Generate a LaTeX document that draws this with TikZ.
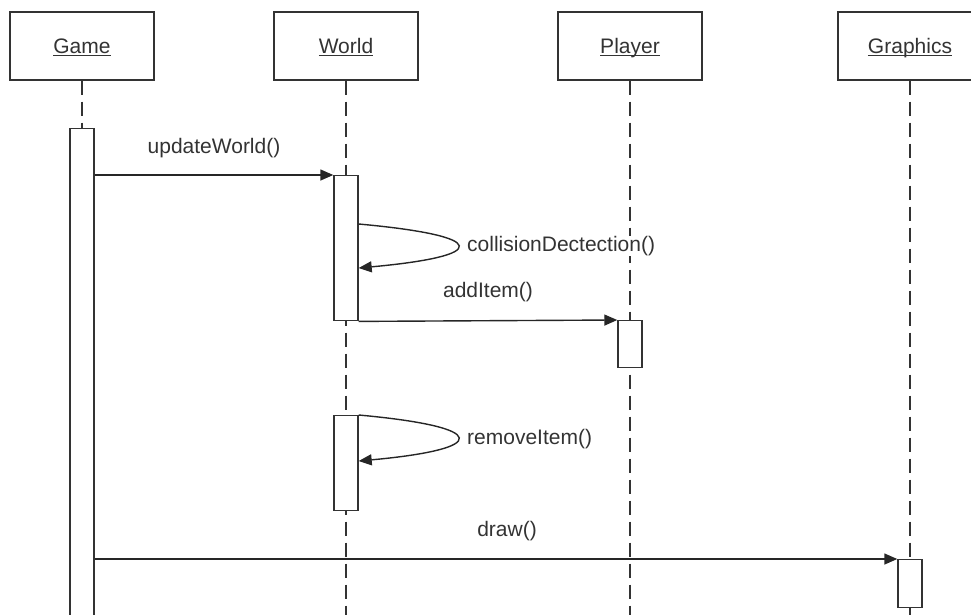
\documentclass[tikz,border=0pt]{standalone}
\usepackage{fontspec}
\setmainfont{Liberation Sans}
\usetikzlibrary{arrows.meta}
\usetikzlibrary{positioning}
\newcommand{\objname}[1]{\underline{\smash{#1}}}
\tikzset{
	>={Triangle[length=13pt,width=11pt]},
	objbox/.style={draw=black!80, line width=1.4pt, fill=white, minimum width=144pt, minimum height=68pt, text height=15pt, text depth=0pt, text=black!80, font=\fontsize{21}{25}\selectfont},
	actbox/.style={draw=black!80, line width=1.4pt, fill=white, minimum width=24pt, anchor=north, inner sep=0pt},
	lifeline/.style={black!80, line width=1.4pt, dash pattern=on 14pt off 7pt},
	msg/.style={black!85, line width=1.4pt, ->},
	msglabel/.style={text=black!80, font=\fontsize{21}{25}\selectfont, inner sep=0pt},
}

\begin{document}
\begin{tikzpicture}[x=1pt, y=-1pt, line join=miter]
		% Page frame
		\clip (0,0) rectangle (971,614);
		
		% Objects
		\node[objbox] (game) at (82,46) {\objname{Game}};
		\node[objbox] (world) at (346,46) {\objname{World}};
		\node[objbox] (player) at (630,46) {\objname{Player}};
		\node[objbox] (graphics) at (910,46) {\objname{Graphics}};
		
		% Lifelines
		\coordinate (gameEnd) at (82,620);
		\coordinate (worldEnd) at (346,620);
		\coordinate (playerEnd) at (630,620);
		\coordinate (graphicsEnd) at (910,620);
		\draw[lifeline] (game.south) -- (gameEnd);
		\draw[lifeline] (world.south) -- (worldEnd);
		\draw[lifeline] (player.south) -- (playerEnd);
		\draw[lifeline] (graphics.south) -- (graphicsEnd);
		
		% Activations
		\node[actbox, minimum height=500pt] (gameAct) at (82,128) {};
		\node[actbox, minimum height=145pt] (worldActA) at (346,175) {};
		\node[actbox, minimum height=47pt] (playerAct) at (630,320) {};
		\node[actbox, minimum height=95pt] (worldActB) at (346,415) {};
		\node[actbox, minimum height=48pt] (graphicsAct) at (910,559) {};
		
		% Messages
		\draw[msg] (gameAct.east |- worldActA.north west) -- (worldActA.north west);
		\node[msglabel] (updateLbl) at (214,148) {updateWorld()};
		
		\draw[msg] ([yshift=-49pt]worldActA.north east) .. controls +(132,12) and +(132,-12) .. ([yshift=-93pt]worldActA.north east);
		\node[msglabel, anchor=west, fill=white] (collLbl) at (467,246) {collisionDectection()};
		
		\draw[msg] (worldActA.south east) -- (playerAct.north west);
		\node[msglabel] (addLbl) at (488,292) {addItem()};
		
		\draw[msg] (worldActB.north east) .. controls +(132,12) and +(132,-12) .. ([yshift=-46pt]worldActB.north east);
		\node[msglabel, anchor=west] (removeLbl) at (467,439) {removeItem()};
		
		\draw[msg] (gameAct.east |- graphicsAct.north west) -- (graphicsAct.north west);
		\node[msglabel] (drawLbl) at (507,531) {draw()};
	\end{tikzpicture}
\end{document}
